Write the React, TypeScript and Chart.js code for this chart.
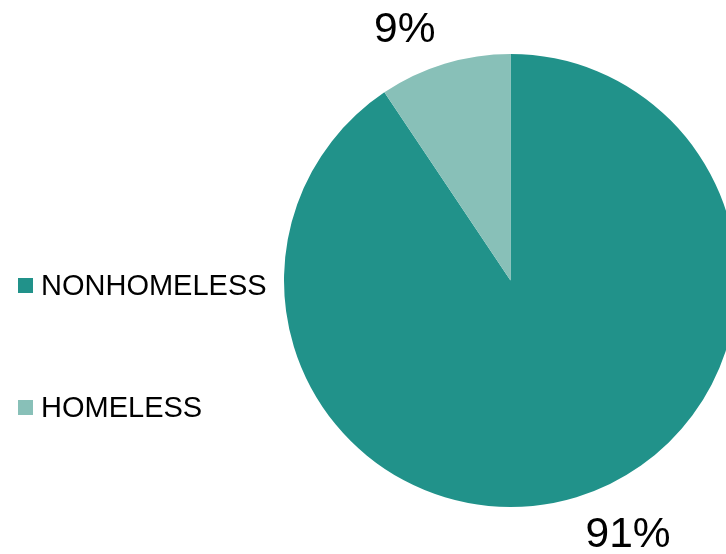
import React, { useEffect, useRef } from "react";
import { Chart, registerables } from "chart.js";

Chart.register(...registerables);

const categories = ["NONHOMELESS", "HOMELESS"];
const values = [90.6, 9.4];
const colors = ["#21928A", "#88C0B8"];

const FONT = "'Liberation Sans', Arial, sans-serif";

const overlayPlugin = {
  id: "overlay",
  afterDraw(chart: any) {
    const ctx = chart.ctx;
    const meta = chart.getDatasetMeta(0);
    const total = values.reduce((a, b) => a + b, 0);
    ctx.save();
    // value labels (outside end)
    ctx.fillStyle = "#000";
    ctx.font = `42.5px ${FONT}`;
    ctx.textAlign = "center";
    ctx.textBaseline = "middle";
    meta.data.forEach((arc: any, i: number) => {
      const text = Math.round((values[i] / total) * 100) + "%";
      const mid = (arc.startAngle + arc.endAngle) / 2;
      const dx = Math.cos(mid);
      const dy = Math.sin(mid);
      const d = arc.outerRadius + 14;
      const px = arc.x + dx * d;
      const py = arc.y + dy * d;
      const w = ctx.measureText(text).width + 10;
      const h = 45;
      const cx = px + (dx < 0 ? -w / 2 : w / 2);
      const cy = py + (dy < 0 ? -h / 2 : h / 2) + 2.5;
      ctx.fillText(text, cx, cy);
    });
    // legend
    ctx.font = `29px ${FONT}`;
    ctx.textAlign = "left";
    ctx.textBaseline = "alphabetic";
    const rowY = [295, 417];
    categories.forEach((c, i) => {
      ctx.fillStyle = colors[i];
      ctx.fillRect(18, rowY[i] - 17, 15, 15);
      ctx.fillStyle = "#000";
      ctx.fillText(c, 41, rowY[i]);
    });
    ctx.restore();
  },
};

export default function App() {
  const ref = useRef<HTMLCanvasElement>(null);
  useEffect(() => {
    if (!ref.current) return;
    const chart = new Chart(ref.current, {
      type: "pie",
      data: {
        labels: categories,
        datasets: [
          {
            data: values,
            backgroundColor: colors,
            borderWidth: 0,
          },
        ],
      },
      options: {
        animation: false,
        responsive: false,
        devicePixelRatio: 1,
        layout: { padding: { left: 284, top: 54, right: 63, bottom: 47 } },
        plugins: {
          legend: { display: false },
          tooltip: { enabled: false },
        },
      },
      plugins: [overlayPlugin],
    });
    return () => chart.destroy();
  }, []);
  return (
    <div
      style={{
        position: "absolute",
        left: 0,
        top: 0,
        width: 726,
        height: 554,
        overflow: "hidden",
        background: "#fff",
      }}
    >
      <canvas ref={ref} width={800} height={554} style={{ display: "block" }} />
    </div>
  );
}
